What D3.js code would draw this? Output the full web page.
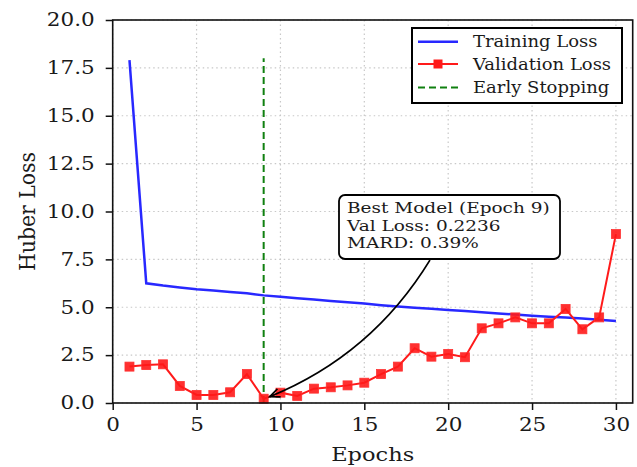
<!DOCTYPE html>
<html>
<head>
<meta charset="utf-8">
<script src="https://cdn.jsdelivr.net/npm/d3@7"></script>
<style>
  html, body { margin: 0; padding: 0; background: #ffffff; }
  svg { display: block; }
  text { font-family: "DejaVu Serif", serif; fill: #1a1a1a; }
</style>
</head>
<body>
<svg id="chart" width="637" height="467"></svg>
<script>
const epochs = d3.range(1, 31);
const trainingLoss = [17.9, 6.25, 6.13, 6.03, 5.94, 5.87, 5.80, 5.73, 5.62, 5.55,
  5.47, 5.40, 5.33, 5.26, 5.19, 5.11, 5.04, 4.98, 4.92, 4.86,
  4.80, 4.74, 4.68, 4.62, 4.56, 4.51, 4.46, 4.41, 4.35, 4.28];
const validationLoss = [1.90, 1.98, 2.02, 0.89, 0.42, 0.42, 0.56, 1.51, 0.2236, 0.54,
  0.37, 0.75, 0.82, 0.92, 1.06, 1.51, 1.90, 2.86, 2.42, 2.56,
  2.39, 3.90, 4.16, 4.47, 4.16, 4.16, 4.91, 3.85, 4.47, 8.82];
const earlyStopEpoch = 9;
const earlyStopTop = 18;
const xTicks = [0, 5, 10, 15, 20, 25, 30];
const yTicks = [0, 2.5, 5, 7.5, 10, 12.5, 15, 17.5, 20];
const legendLabels = ["Training Loss", "Validation Loss", "Early Stopping"];
const annotationLines = ["Best Model (Epoch 9)", "Val Loss: 0.2236", "MARD: 0.39%"];

const SY = 0.84; // vertical squash of the reference's text
function squash(sel, s = SY) {
  sel.each(function () {
    const t = d3.select(this);
    const tx = +t.attr("x") || 0, ty = +t.attr("y") || 0;
    t.attr("transform", `translate(${tx},${ty}) scale(1,${s}) translate(${-tx},${-ty})`);
  });
}

const svg = d3.select("#chart");
const L = 112.7, R = 632.7, T = 20, B = 403;
const x = d3.scaleLinear().domain([0, 31]).range([L, R]);
const y = d3.scaleLinear().domain([0, 20]).range([B, T]);

// grid
const grid = svg.append("g");
grid.selectAll(".gx").data(xTicks).join("line")
  .attr("x1", d => x(d)).attr("x2", d => x(d)).attr("y1", T).attr("y2", B)
  .attr("stroke", "#c8c8c8").attr("stroke-width", 1.2).attr("stroke-dasharray", "1.5,3");
grid.selectAll(".gy").data(yTicks).join("line")
  .attr("x1", L).attr("x2", R).attr("y1", d => y(d)).attr("y2", d => y(d))
  .attr("stroke", "#c8c8c8").attr("stroke-width", 1.2).attr("stroke-dasharray", "1.5,3");

// lines
const lineGen = d3.line().x((d, i) => x(epochs[i])).y(d => y(d));
svg.append("path").datum(trainingLoss).attr("d", lineGen)
  .attr("fill", "none").attr("stroke", "#2828ff").attr("stroke-width", 2.5);

svg.append("line")
  .attr("x1", x(earlyStopEpoch)).attr("x2", x(earlyStopEpoch))
  .attr("y1", y(0)).attr("y2", y(earlyStopTop))
  .attr("stroke", "#108010").attr("stroke-width", 2).attr("stroke-dasharray", "7,4");

svg.append("path").datum(validationLoss).attr("d", lineGen)
  .attr("fill", "none").attr("stroke", "#ff1a1a").attr("stroke-width", 2);
svg.selectAll(".vm").data(validationLoss).join("rect")
  .attr("x", (d, i) => x(epochs[i]) - 4.5).attr("y", d => y(d) - 4.5)
  .attr("width", 9).attr("height", 9)
  .attr("fill", "#ff1a1a").attr("fill-opacity", 0.9).attr("stroke", "#ff3030").attr("stroke-width", 0.8);

// frame
svg.append("rect").attr("x", L).attr("y", T).attr("width", R - L).attr("height", B - T)
  .attr("fill", "none").attr("stroke", "#111").attr("stroke-width", 1.6);

// axes
const xAxis = svg.append("g").attr("transform", `translate(0,${B})`)
  .call(d3.axisBottom(x).tickValues(xTicks).tickFormat(d3.format("d")).tickSize(7).tickPadding(8.5));
const yAxis = svg.append("g").attr("transform", `translate(${L},0)`)
  .call(d3.axisLeft(y).tickValues(yTicks).tickFormat(d3.format(".1f")).tickSize(7).tickPadding(11));
[xAxis, yAxis].forEach(a => {
  a.select(".domain").remove();
  a.selectAll(".tick line").attr("stroke", "#111").attr("stroke-width", 1.5);
  a.selectAll(".tick text").attr("font-family", "DejaVu Serif").attr("font-size", 21.5).attr("fill", "#1a1a1a")
    .call(squash);
});

svg.append("text").attr("x", (L + R) / 2).attr("y", 461).attr("text-anchor", "middle")
  .attr("font-size", 22.5).text("Epochs").call(squash);
svg.append("text")
  .attr("transform", `translate(35,${(T + B) / 2}) scale(1,0.95) rotate(-90)`)
  .attr("text-anchor", "middle").attr("font-size", 21.5).text("Huber Loss");

// annotation arrow
const px = x(earlyStopEpoch) + 6, py = y(validationLoss[8]) - 2;
const sx = 430, sy = 260;
const cx = 372, cy = 355;
svg.append("path").attr("d", `M${sx},${sy} Q${cx},${cy} ${px},${py}`)
  .attr("fill", "none").attr("stroke", "#000").attr("stroke-width", 1.6);
const ang = Math.atan2(py - cy, px - cx);
const ah = 11, aw = 0.4;
svg.append("path").attr("d",
  `M${px - ah * Math.cos(ang - aw)},${py - ah * Math.sin(ang - aw)} L${px},${py} L${px - ah * Math.cos(ang + aw)},${py - ah * Math.sin(ang + aw)}`)
  .attr("fill", "none").attr("stroke", "#000").attr("stroke-width", 1.6);

// annotation box
svg.append("rect").attr("x", 339).attr("y", 195).attr("width", 221).attr("height", 64)
  .attr("rx", 6).attr("fill", "#fff").attr("stroke", "#000").attr("stroke-width", 1.8);
svg.selectAll(".ann").data(annotationLines).join("text")
  .attr("x", 347).attr("y", (d, i) => 213 + i * 17.6)
  .attr("font-size", 18.5).attr("fill", "#1a1a1a").text(d => d).call(squash, 0.82);

// legend
const lg = svg.append("g");
lg.append("rect").attr("x", 412).attr("y", 28).attr("width", 210).attr("height", 75)
  .attr("fill", "#fff").attr("stroke", "#000").attr("stroke-width", 2);
const rowY = [41.7, 64, 87.5];
lg.append("line").attr("x1", 418).attr("x2", 458).attr("y1", rowY[0]).attr("y2", rowY[0])
  .attr("stroke", "#2828ff").attr("stroke-width", 2.5);
lg.append("line").attr("x1", 418).attr("x2", 458).attr("y1", rowY[1]).attr("y2", rowY[1])
  .attr("stroke", "#ff1a1a").attr("stroke-width", 2);
lg.append("rect").attr("x", 438 - 4.5).attr("y", rowY[1] - 4.5).attr("width", 9).attr("height", 9)
  .attr("fill", "#ff1a1a");
lg.append("line").attr("x1", 418).attr("x2", 458).attr("y1", rowY[2]).attr("y2", rowY[2])
  .attr("stroke", "#108010").attr("stroke-width", 2).attr("stroke-dasharray", "7,4");
lg.selectAll(".lt").data(legendLabels).join("text")
  .attr("x", 473).attr("y", (d, i) => rowY[i] + 5.8)
  .attr("font-size", 18).attr("fill", "#1a1a1a").text(d => d).call(squash, 0.88);
</script>
</body>
</html>
